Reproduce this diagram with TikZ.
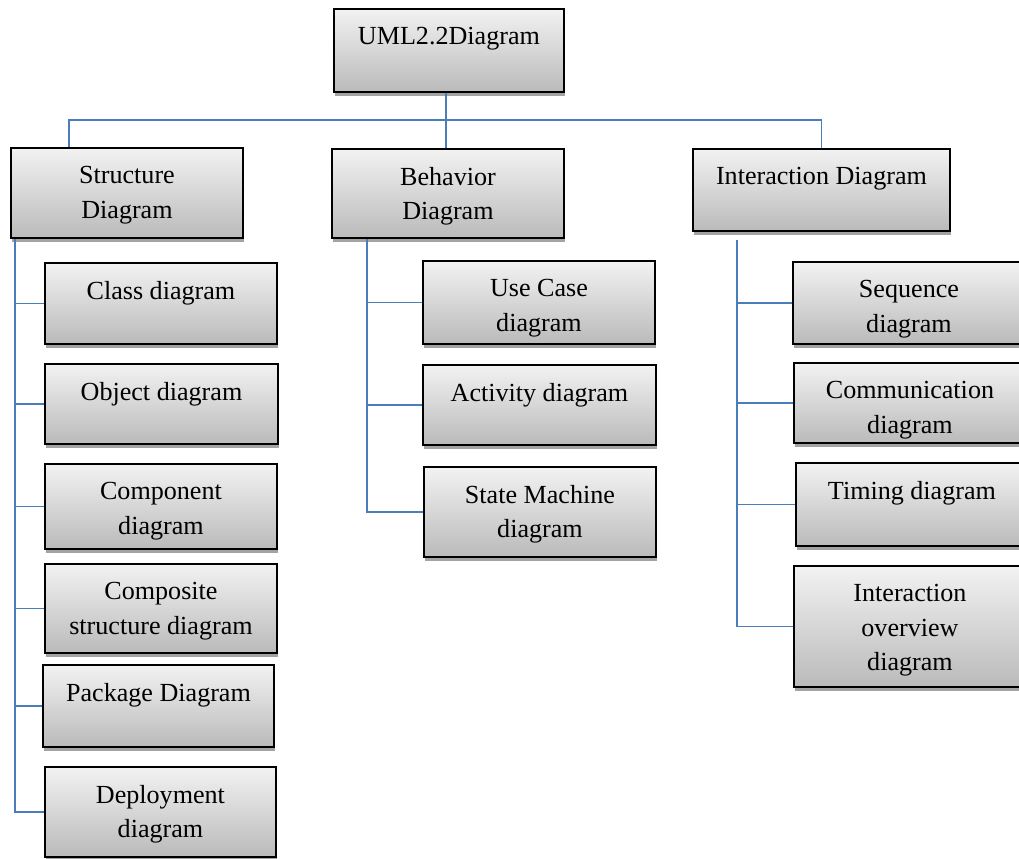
\documentclass[tikz,border=0pt]{standalone}
\usepackage{fontspec}
\setmainfont{Liberation Serif}
\usetikzlibrary{shadows}
\newdimen\ux \ux=0.567pt
% box text: width, height, lines
\newcommand{\btext}[3]{\parbox[c][#2\ux][t]{#1\ux}{\centering\vspace{10.4pt}#3}}
\definecolor{linkblue}{HTML}{4A7EBB}
\begin{document}
\begin{tikzpicture}%
[x=\ux,y=-\ux,
box/.style={draw=black, line width=1.1pt, inner sep=0pt, anchor=north west,
  top color=black!5, bottom color=black!27,
  drop shadow={shadow xshift=0.4pt, shadow yshift=-2.2pt, fill=black!45, opacity=.8},
  font=\fontsize{14.8pt}{19.6pt}\selectfont},
link/.style={draw=linkblue, line width=0.9pt}]
\useasboundingbox (0,0) rectangle (1019,859);
% top level
\node[box] (root) at (333,8) {\btext{230}{83}{UML2.2Diagram}};
\node[box] (sd) at (10,147) {\btext{232}{90}{Structure\\Diagram}};
\node[box] (bd) at (331,148) {\btext{232}{89}{Behavior\\Diagram}};
\node[box] (id) at (692,148) {\btext{257}{82}{Interaction Diagram}};
% structure
\node[box] (cls) at (44,262) {\btext{232}{81}{Class diagram}};
\node[box] (obj) at (44,363) {\btext{233}{80}{Object diagram}};
\node[box] (comp) at (44,463) {\btext{232}{85}{Component\\diagram}};
\node[box] (cmps) at (44,563) {\btext{232}{89}{Composite\\structure diagram}};
\node[box] (pkg) at (42,664) {\btext{231}{82}{Package Diagram}};
\node[box] (dep) at (44,766) {\btext{231}{90}{Deployment\\diagram}};
% behavior
\node[box] (uc) at (422,260) {\btext{232}{83}{Use Case\\diagram}};
\node[box] (act) at (422,364) {\btext{233}{80}{Activity diagram}};
\node[box] (sm) at (423,466) {\btext{232}{90}{State Machine\\diagram}};
% interaction
\node[box] (seq) at (792,261) {\btext{232}{82}{Sequence\\diagram}};
\node[box] (com) at (793,362) {\btext{232}{80}{Communication\\diagram}};
\node[box] (tim) at (795,462) {\btext{232}{83}{Timing diagram}};
\node[box] (iov) at (793,565) {\btext{232}{121}{Interaction\\overview\\diagram}};
% connectors
\coordinate (rt) at ([xshift=-3\ux]root.south);
\coordinate (bus) at ([yshift=-27\ux]rt);
\coordinate (sdtop) at ([xshift=-58\ux]sd.north);
\draw[link] (rt) -- (rt |- bd.north);
\draw[link] (sdtop) |- (bus) -| (id.north);
\coordinate (st) at ([xshift=5\ux]sd.south west);
\coordinate (bt) at ([xshift=36\ux]bd.south west);
\coordinate (it) at ([xshift=45\ux,yshift=-8\ux]id.south west);
\foreach \c in {cls,obj,comp,cmps,pkg,dep} \draw[link] (st) |- (\c.west);
\foreach \c in {uc,act,sm} \draw[link] (bt) |- (\c.west);
\foreach \c in {seq,com,tim,iov} \draw[link] (it) |- (\c.west);
\end{tikzpicture}
\end{document}
